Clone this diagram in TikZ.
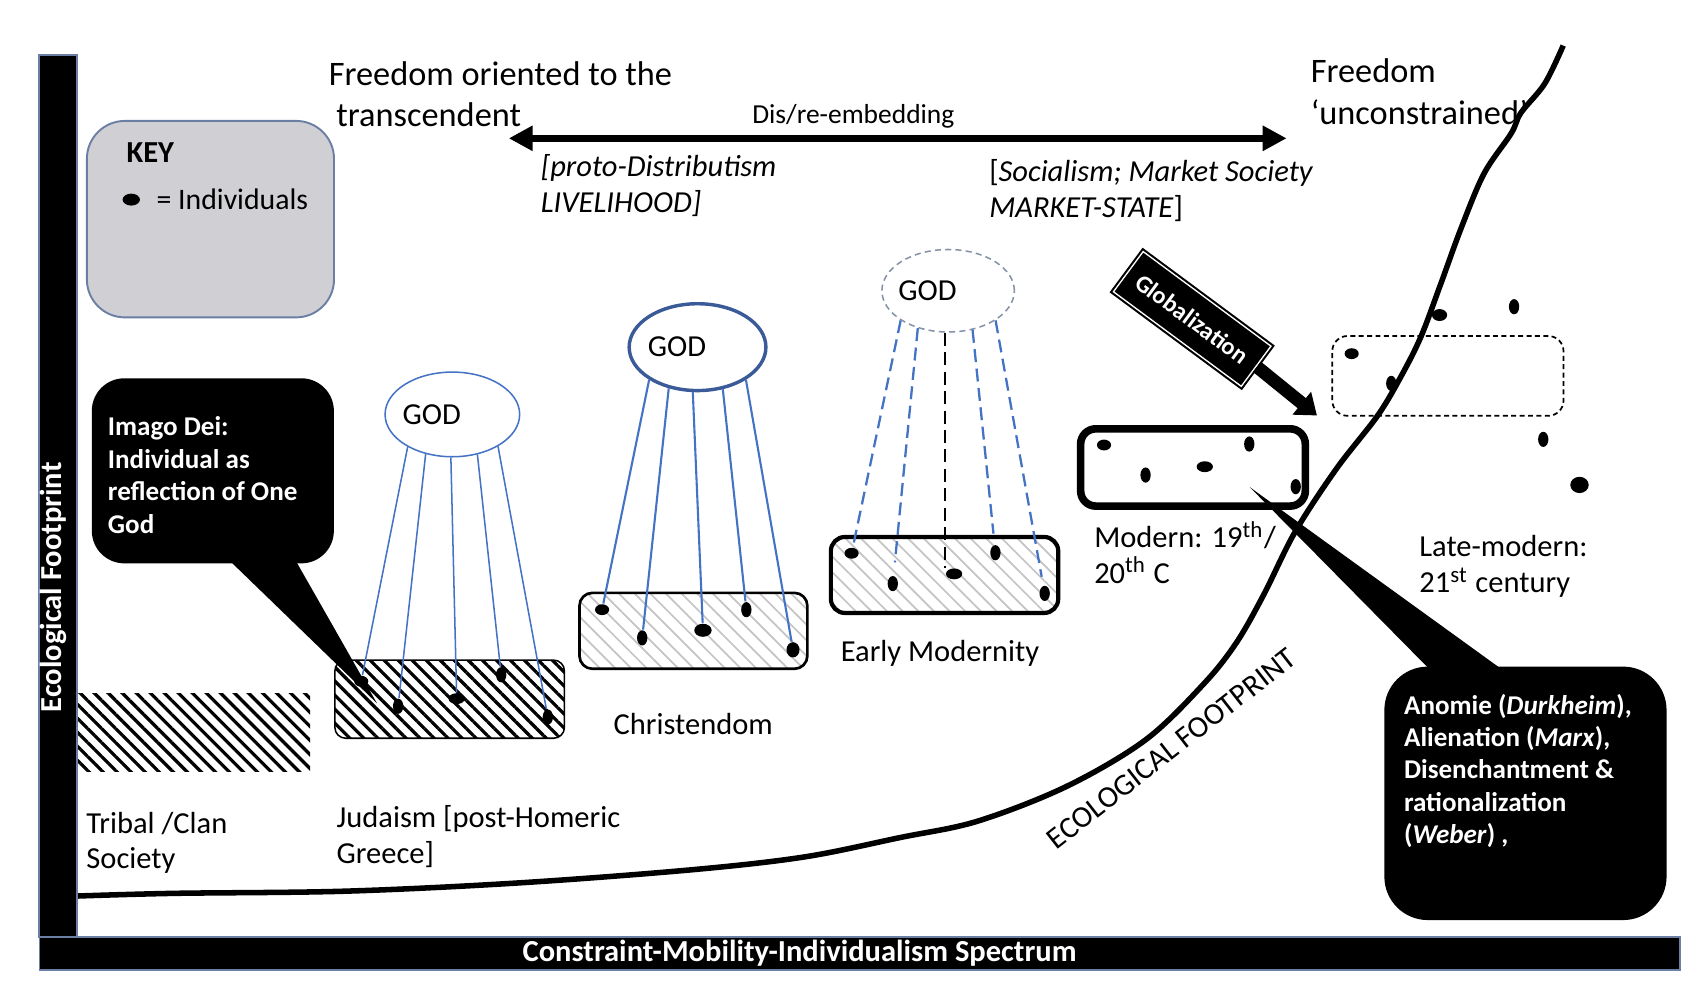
\documentclass[tikz,border=0pt]{standalone}
\usepackage{fontspec}
\setmainfont{Carlito}
\usepackage{tikz}
\usetikzlibrary{positioning, arrows.meta, shapes.geometric, patterns.meta, calc}

\definecolor{officeblue}{HTML}{4472C4}
\definecolor{godblue}{HTML}{3B5A98}
\definecolor{keygray}{HTML}{D0CFD4}
\definecolor{edgeblue}{HTML}{6A7FA3}
\definecolor{fadegray}{HTML}{8592A8}
\definecolor{hatchgray}{HTML}{C4C4C4}

\newcommand{\lblfont}{\fontsize{8}{9.4}\selectfont}
\newcommand{\topfont}{\fontsize{9}{10.8}\selectfont}
\newcommand{\calloutfont}{\fontsize{7.1}{8.5}\selectfont\bfseries}
\newcommand{\barfont}{\fontsize{8}{9.4}\selectfont\bfseries}

\begin{document}
\begin{tikzpicture}[
    x=0.01cm, y=-0.01cm,
    >={Triangle[length=2.2mm, width=2.2mm]},
    lbl/.style      ={font=\lblfont, align=left, anchor=west, inner sep=0pt},
    toplbl/.style   ={lbl, font=\topfont},
    god/.style      ={ellipse, draw=officeblue, line width=0.4pt, minimum width=1.24cm, minimum height=0.78cm, inner sep=0pt, font=\lblfont},
    indiv/.style    ={ellipse, fill=black, inner sep=0pt, minimum width=0.13cm, minimum height=0.1cm},
    indivv/.style   ={indiv, minimum width=0.095cm, minimum height=0.14cm},
    society/.style  ={rectangle, rounded corners=0.1cm, minimum width=2.1cm, minimum height=0.7cm, inner sep=0pt},
    heavyhatch/.style={pattern={Lines[angle=-45, distance=2.6pt, line width=0.85pt]}, pattern color=black},
    lighthatch/.style={pattern={Lines[angle=-45, distance=2.9pt, line width=0.45pt]}, pattern color=hatchgray},
    ray/.style      ={officeblue, line width=0.4pt},
    fadedray/.style ={officeblue, line width=0.6pt, dash pattern=on 3.4pt off 1.7pt},
    keybox/.style   ={rectangle, rounded corners=0.35cm, fill=keygray, draw=edgeblue, line width=0.5pt, minimum width=2.277cm, minimum height=1.81cm},
    callout/.style  ={rectangle, fill=black, inner sep=0pt},
    callouttxt/.style={lbl, font=\calloutfont, text=white},
    axisbar/.style  ={rectangle, fill=black, draw=edgeblue, line width=0.4pt, inner sep=0pt},
    axistxt/.style  ={font=\barfont, text=white, inner sep=0pt},
    globbox/.style  ={rectangle, fill=black, draw=black, double=white, double distance=0.35pt, line width=0.55pt,
                      minimum width=1.37cm, minimum height=0.46cm, font=\fontsize{6.4}{7.7}\selectfont\bfseries, text=white},
    footprint/.style={line width=1.45pt, line join=round},
]

\fill[white] (0,0) rectangle (1568,914);

% key
\node[keybox] (key) at (194,202) {};
\node[lbl, font=\lblfont\bfseries] (keyttl) at (116,141) {KEY};
\node[indiv, minimum width=0.16cm, minimum height=0.11cm] (keydot) at (121,184) {};
\node[lbl, font=\fontsize{7.8}{9}\selectfont, right=0.14cm of keydot] (keytxt) {= Individuals};

% tribal / clan
\node[society, rounded corners=0pt, heavyhatch, minimum width=2.144cm, minimum height=0.723cm] (tribal) at (178.6,675.2) {};
\node[lbl] (tribaltxt) at (79,777) {Tribal /Clan\\Society};

% judaism
\node[society, heavyhatch, draw, line width=0.4pt, minimum width=2.115cm, minimum height=0.72cm] (judaism) at (414.5,644.5) {};
\node[god] (godJ) at (417,382) {\hspace*{-0.38cm}GOD};
\node[indiv]  (dJ1) at (333,628) {};
\node[indivv] (dJ2) at (367,651) {};
\node[indiv, minimum width=0.15cm] (dJ3) at (421,644) {};
\node[indivv] (dJ4) at (462,622) {};
\node[indivv] (dJ5) at (505,661) {};
\foreach \a/\d in {216/1, 236/2, 268/3, 302/4, 325/5}
    \draw[ray] (godJ.\a) -- (dJ\d);
\node[lbl] (judtxt) at (309.6,771.3) {Judaism [post-Homeric\\Greece]};

% christendom
\node[society, lighthatch, draw, line width=0.7pt, rounded corners=0.12cm, minimum width=2.1cm, minimum height=0.7cm] (christ) at (639.2,581.5) {};
\node[god, draw=godblue, line width=0.9pt, minimum width=1.26cm, minimum height=0.8cm] (godC) at (643,320) {\hspace*{-0.38cm}GOD};
\node[indiv]  (dC1) at (555,562) {};
\node[indivv] (dC2) at (592,588) {};
\node[indiv, minimum width=0.16cm, minimum height=0.12cm] (dC3) at (648,581) {};
\node[indivv] (dC4) at (688,562) {};
\node[indivv, minimum width=0.12cm] (dC5) at (731,599) {};
\foreach \a/\d in {214/1, 235/2, 264/3, 301/4, 326/5}
    \draw[ray, line width=0.55pt] (godC.\a) -- (dC\d);
\node[lbl, anchor=center] (christtxt) at (639,667) {Christendom};

% early modernity
\node[society, lighthatch, draw, line width=1.1pt, rounded corners=0.13cm, minimum width=2.095cm, minimum height=0.7cm] (early) at (870.7,530) {};
\node[god, draw=fadegray, dash pattern=on 1.6pt off 1.1pt, minimum width=1.22cm, minimum height=0.76cm] (godE) at (874,268) {\hspace*{-0.38cm}GOD};
\node[indiv]  (dE1) at (785,510) {};
\node[indivv] (dE2) at (823,538) {};
\node[indiv, minimum width=0.15cm] (dE3) at (879.5,529) {};
\node[indivv] (dE4) at (917.6,509.5) {};
\node[indivv] (dE5) at (963,547) {};
\draw[fadedray] (godE.212) -- (dE1);
\draw[fadedray, shorten >=0.12cm] (godE.231) -- (dE2);
\draw[fadedray, black] (godE.266) -- (godE.266 |- dE3.north);
\draw[fadedray, shorten >=0.1cm] (godE.302) -- (dE4);
\draw[fadedray, shorten >=0.08cm] (godE.328) -- (dE5);
\node[lbl, anchor=center] (earlytxt) at (866.5,602) {Early Modernity};

% modern
\node[society, draw, line width=2pt, rounded corners=0.14cm, fill=white, minimum width=2.07cm, minimum height=0.712cm] (modern) at (1099.7,430.9) {};
\node[indiv]  (dM1) at (1017.7,410.2) {};
\node[indivv] (dM2) at (1056,437.9) {};
\node[indiv, minimum width=0.15cm] (dM3) at (1110.6,430.2) {};
\node[indivv] (dM4) at (1151.6,409.3) {};
\node[indivv] (dM5) at (1194.4,448.6) {};
\node[lbl] (moderntxt) at (1008,509.3) {Modern: 19\textsuperscript{th}/\\20\textsuperscript{th} C};

% late modern
\node[society, draw, line width=0.45pt, dash pattern=on 1.3pt off 0.9pt, rounded corners=0.14cm, minimum width=2.13cm, minimum height=0.735cm] (late) at (1334.7,346.5) {};
\node[indiv]  (dL1) at (1246,326) {};
\node[indivv] (dL2) at (1282.5,353.4) {};
\node[indiv, minimum width=0.14cm, minimum height=0.11cm] (dL3) at (1327,290.4) {};
\node[indivv] (dL4) at (1395.7,282.7) {};
\node[indivv] (dL5) at (1422.6,405) {};
\node[indiv, minimum width=0.17cm, minimum height=0.15cm] (dL6) at (1456,447) {};
\node[lbl] (latetxt) at (1307.7,522.4) {Late-modern:\\21\textsuperscript{st} century};

% ecological footprint curve
\draw[footprint] plot[smooth, tension=0.55] coordinates {
    (70,826) (160,823.5) (318,821.5) (476,814) (635,802) (741,790) (830,772) (901,757)
    (983,725) (1056,682) (1110,630) (1140,592) (1165,548) (1194,490) (1232,432) (1270,383)
    (1292,346) (1310,310) (1328,262) (1347,210) (1368,160) (1393,123) (1402,104) (1424,77) (1441,42)};
\node[lbl, anchor=center, rotate=38] (ecotxt) at (1080,690) {ECOLOGICAL FOOTPRINT};

% globalization
\node[globbox, rotate=-36.5] (glob) at (1099,294) {Globalization};
\coordinate (globtip) at (1214,383);
\draw[line width=3.4pt, -{Triangle[length=1.8mm, width=2.6mm]}] (glob.east) -- (globtip);

% callouts
\node[callout, rounded corners=0.3cm, minimum width=2.23cm, minimum height=1.705cm] (imago) at (196.2,434) {};
\coordinate (imagotip) at (347.5,648.3);
\fill ($(imago.south west)+(116.6,-14)$) -- (imagotip) -- ($(imago.south west)+(182.5,-14)$) -- cycle;
\node[callouttxt] (imagotxt) at (98.8,437.9) {Imago Dei:\\Individual as\\reflection of One\\God};

\node[callout, rounded corners=0.4cm, minimum width=2.6cm, minimum height=2.335cm] (anomie) at (1406.2,731.3) {};
\coordinate (anomietip) at (1152,449);
\fill ($(anomie.north west)+(64.4,25.5)$) -- (anomietip) -- ($(anomie.north west)+(139.8,25.5)$) -- cycle;
\node[callouttxt] (anomietxt) at (1293.6,710.6) {Anomie (\textit{Durkheim}),\\Alienation (\textit{Marx}),\\Disenchantment \&\\rationalization\\(\textit{Weber}) ,};

% axes
\node[axisbar, minimum width=0.346cm, minimum height=8.128cm] (yaxis) at (53.5,457.1) {};
\node[axistxt, rotate=90] (ylbl) at (49,541.5) {Ecological Footprint};
\node[axisbar, minimum width=15.11cm, minimum height=0.307cm] (xaxis) at (792.5,878.85) {};
\node[axistxt] (xlbl) at (737,879) {Constraint-Mobility-Individualism Spectrum};

% top: dis/re-embedding
\node[toplbl] (freeL) at (302.4,86.8) {Freedom oriented to the\\\hspace*{0.07cm}transcendent};
\node[toplbl] (freeR) at (1207.6,84.5) {Freedom\\‘unconstrained’};
\coordinate (embedL) at (469,127.5);
\coordinate (embedR) at (1186,127.5);
\draw[<->, line width=2pt] (embedL) -- (embedR);
\node[font=\fontsize{7.2}{8.6}\selectfont, inner sep=0pt] (embedtxt) at (786.6,107.6) {Dis/re-embedding};
\node[lbl, font=\lblfont\itshape] (distrib) at (497.9,171.2) {[proto-Distributism\\LIVELIHOOD]};
\node[lbl] (market) at (911.2,176) {[\textit{Socialism; Market Society}\\\textit{MARKET-STATE}]};

\end{tikzpicture}
\end{document}
